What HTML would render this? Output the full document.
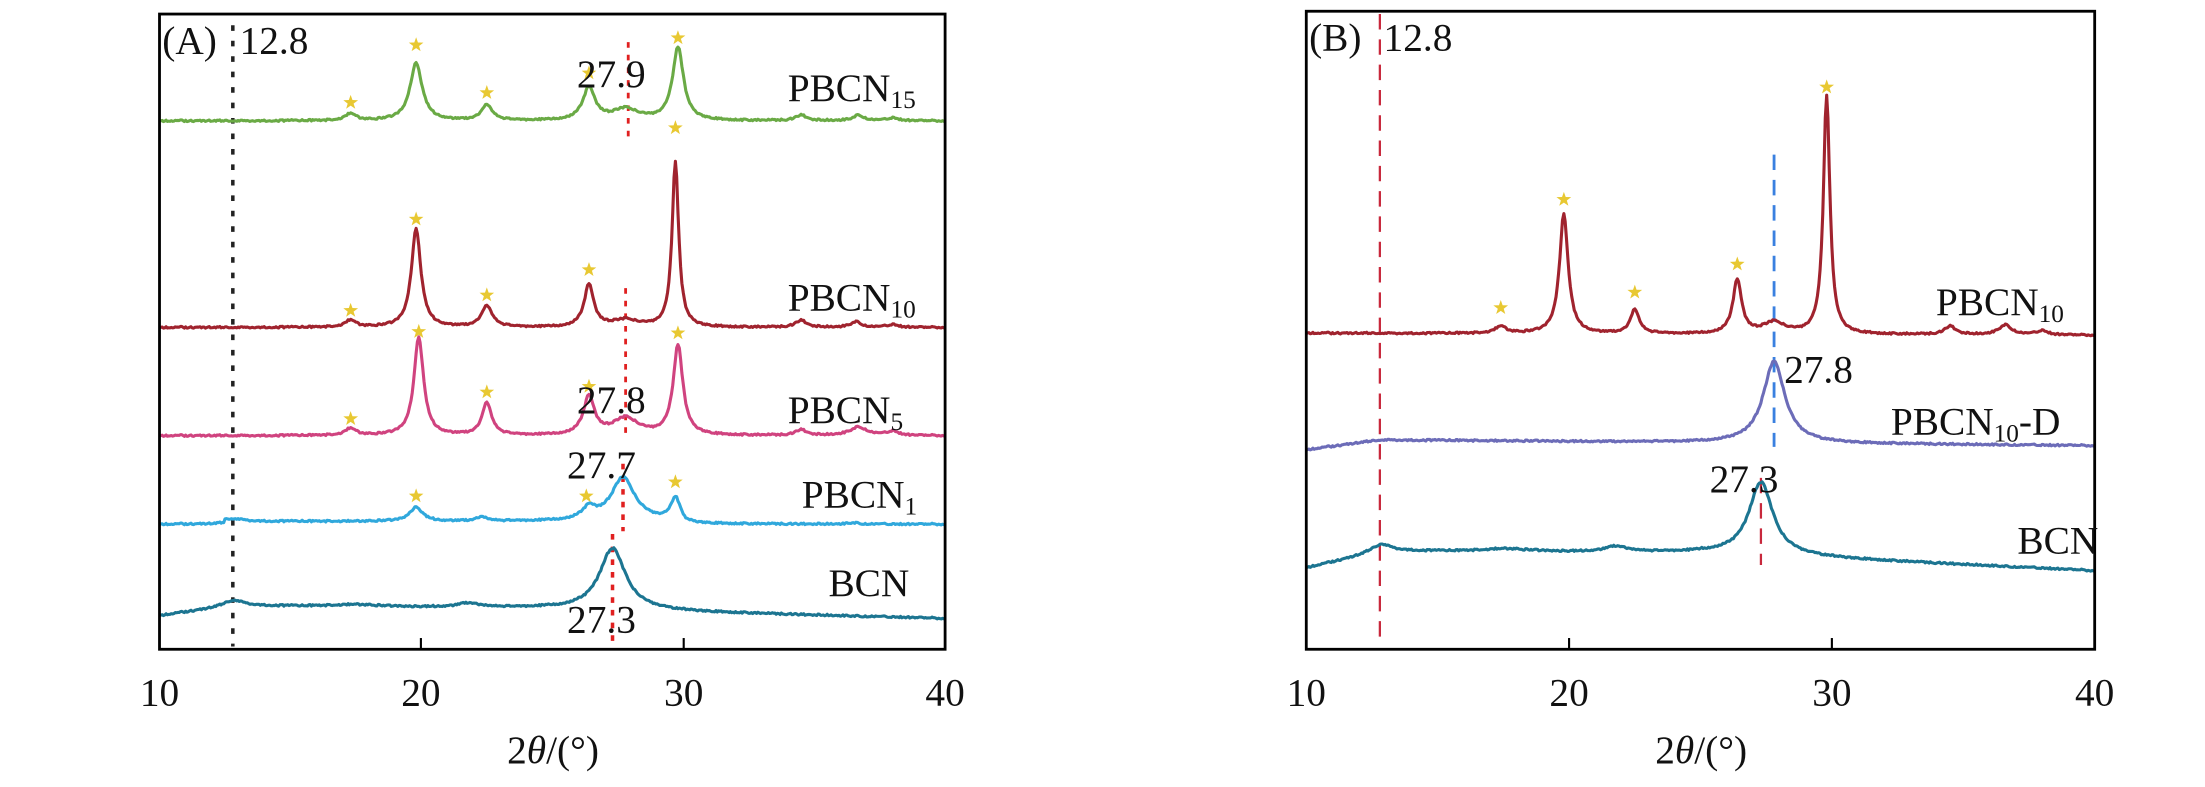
<!DOCTYPE html>
<html><head><meta charset="utf-8"><style>
html,body{margin:0;padding:0;background:#fff;}
svg{display:block}
text{font-family:"Liberation Serif",serif;fill:#111}
</style></head><body>
<svg id="s" width="2205" height="787" viewBox="0 0 1568 560" xmlns="http://www.w3.org/2000/svg">
<g id="g"></g>
<rect x="113" y="10" width="559" height="452" fill="none" stroke="#000" stroke-width="2"/>
<line x1="299" y1="462" x2="299" y2="454" stroke="#000" stroke-width="1.5"/>
<line x1="486" y1="462" x2="486" y2="454" stroke="#000" stroke-width="1.5"/>
<g font-size="28" text-anchor="middle">
<text x="113" y="502">10</text><text x="299" y="502">20</text><text x="486" y="502">30</text><text x="672" y="502">40</text>
<text x="393" y="543">2<tspan font-style="italic">θ</tspan>/(°)</text>
</g>
<rect x="929" y="8" width="561" height="454" fill="none" stroke="#000" stroke-width="2"/>
<line x1="1116" y1="462" x2="1116" y2="454" stroke="#000" stroke-width="1.5"/>
<line x1="1303" y1="462" x2="1303" y2="454" stroke="#000" stroke-width="1.5"/>
<g font-size="28" text-anchor="middle">
<text x="929" y="502">10</text><text x="1116" y="502">20</text><text x="1303" y="502">30</text><text x="1490" y="502">40</text>
<text x="1210" y="543">2<tspan font-style="italic">θ</tspan>/(°)</text>
</g>
<g font-size="28">
<text x="115" y="38">(A)</text><text x="170" y="38">12.8</text>
<text x="410" y="62">27.9</text><text x="410" y="294">27.8</text><text x="403" y="340">27.7</text><text x="403" y="450">27.3</text>
<text x="560" y="72">PBCN<tspan font-size="18" dy="5">15</tspan></text>
<text x="560" y="221">PBCN<tspan font-size="18" dy="5">10</tspan></text>
<text x="560" y="301">PBCN<tspan font-size="18" dy="5">5</tspan></text>
<text x="570" y="361">PBCN<tspan font-size="18" dy="5">1</tspan></text>
<text x="589" y="424">BCN</text>
</g>
<g font-size="28">
<text x="931" y="36">(B)</text><text x="984" y="36">12.8</text>
<text x="1269" y="272">27.8</text><text x="1216" y="350">27.3</text>
<text x="1377" y="224">PBCN<tspan font-size="18" dy="5">10</tspan></text>
<text x="1345" y="309">PBCN<tspan font-size="18" dy="5">10</tspan><tspan dy="-5">-D</tspan></text>
<text x="1435" y="394">BCN</text>
</g>
</svg>
<script>
var g=document.getElementById('g');
function X(a,t){return a?113+(t-10)*18.633:929+(t-10)*18.7;}
function add(tag,attrs){var e=document.createElementNS('http://www.w3.org/2000/svg',tag);for(var k in attrs)e.setAttribute(k,attrs[k]);g.appendChild(e);return e;}
function curve(a,base,peaks,col){
 var d='';var seed=1;
 for(var t=10;t<=40.001;t+=0.05){
  var y=base(t);
  for(var i=0;i<peaks.length;i++){var p=peaks[i];var w=p[2]||0.25;y-=p[1]/(1+Math.pow((t-p[0])/w,2));}
  seed=(seed*9301+49297)%233280;y+=(seed/233280-0.5)*1.2;
  d+=(d?'L':'M')+X(a,t).toFixed(1)+','+y.toFixed(1);
 }
 add('path',{d:d,fill:'none',stroke:col,'stroke-width':2.2,'stroke-linejoin':'round'});
}
function flat(v){return function(){return v;};}
function star(x,y){
 var s='';for(var i=0;i<10;i++){var r=i%2?2.2:5.5;var an=-Math.PI/2+i*Math.PI/5;s+=(x+r*Math.cos(an)).toFixed(1)+','+(y+r*Math.sin(an)).toFixed(1)+' ';}
 add('polygon',{points:s,fill:'#e8c832'});
}
add('line',{x1:X(1,12.8),y1:18,x2:X(1,12.8),y2:460,stroke:'#222','stroke-width':2.5,'stroke-dasharray':'4,7'});
add('line',{x1:X(1,27.9),y1:30,x2:X(1,27.9),y2:100,stroke:'#e02020','stroke-width':2,'stroke-dasharray':'4,5'});
add('line',{x1:X(1,27.8),y1:205,x2:X(1,27.8),y2:312,stroke:'#e02020','stroke-width':2,'stroke-dasharray':'4,5'});
add('line',{x1:X(1,27.7),y1:330,x2:X(1,27.7),y2:378,stroke:'#e02020','stroke-width':2.5,'stroke-dasharray':'4,5'});
add('line',{x1:X(1,27.3),y1:380,x2:X(1,27.3),y2:460,stroke:'#e02020','stroke-width':2.5,'stroke-dasharray':'4,5'});
curve(1,flat(86),[[17.3,5],[19.8,41,0.28],[22.5,11],[26.4,23,0.28],[27.8,8,0.6],[29.8,52,0.25],[34.5,4],[36.7,4],[38,2]],'#6aaa45');
curve(1,flat(233),[[17.3,5],[19.8,70,0.22],[22.5,15],[26.4,30,0.22],[27.8,5,0.6],[29.7,118,0.15],[34.5,5],[36.6,4],[38,2]],'#a0232e');
curve(1,flat(310),[[17.3,5],[19.9,70,0.22],[22.5,23,0.22],[26.4,27,0.25],[27.8,12,0.6],[29.8,64,0.22],[34.5,4],[36.7,6,0.4],[38,3]],'#d0437f');
curve(1,function(t){return 373-(t>12.5&&t<30?2:0);},[[12.8,2,0.5],[19.8,10,0.3],[22.3,3],[26.4,8,0.3],[27.7,31,0.55],[29.7,16,0.2],[36.5,1]],'#30a8dc');
curve(1,function(t){return t<12.8?438-(t-10)*2.4:(t<25?431+(t-12.8)*0.15:433+(t-25)*0.47);},[[12.8,4,0.5],[17.5,1.5,1],[21.8,3,0.5],[27.3,44,0.6]],'#1c7591');
[[17.3,73],[19.8,32],[22.5,66],[26.4,52],[29.8,27],[17.3,221],[19.8,156],[22.5,210],[26.4,192],[29.7,91],[17.3,298],[19.9,236],[22.5,279],[26.4,275],[29.8,237],[19.8,353],[26.3,353],[29.7,343]].forEach(function(p){star(X(1,p[0]),p[1]);});
add('line',{x1:X(0,12.8),y1:10,x2:X(0,12.8),y2:460,stroke:'#c8283c','stroke-width':1.6,'stroke-dasharray':'11,7'});
add('line',{x1:X(0,27.8),y1:110,x2:X(0,27.8),y2:318,stroke:'#3a80e0','stroke-width':2,'stroke-dasharray':'11,7'});
add('line',{x1:X(0,27.3),y1:340,x2:X(0,27.3),y2:402,stroke:'#c8283c','stroke-width':1.6,'stroke-dasharray':'11,7'});
curve(0,function(t){return 237+(t-10)*0.05;},[[17.4,5],[19.8,85,0.2],[22.5,17,0.2],[26.4,38,0.2],[27.8,8,0.5],[29.8,170,0.15],[34.5,6],[36.6,7,0.3],[38,3]],'#a0232e');
curve(0,function(t){return t<12.8?320-(t-10)*2.5:313+(t-12.8)*0.15;},[[27.8,58,0.5]],'#6c6cb8');
curve(0,function(t){return t<12.8?404-(t-10)*4:(t<25?392+(t-12.8)*0.1:393+(t-25)*0.87);},[[12.8,5,0.5],[17.6,2,1],[21.8,4,0.5],[27.3,52,0.55]],'#1c7591');
[[17.4,219],[19.8,142],[22.5,208],[26.4,188],[29.8,62]].forEach(function(p){star(X(0,p[0]),p[1]);});
</script>
</body></html>
